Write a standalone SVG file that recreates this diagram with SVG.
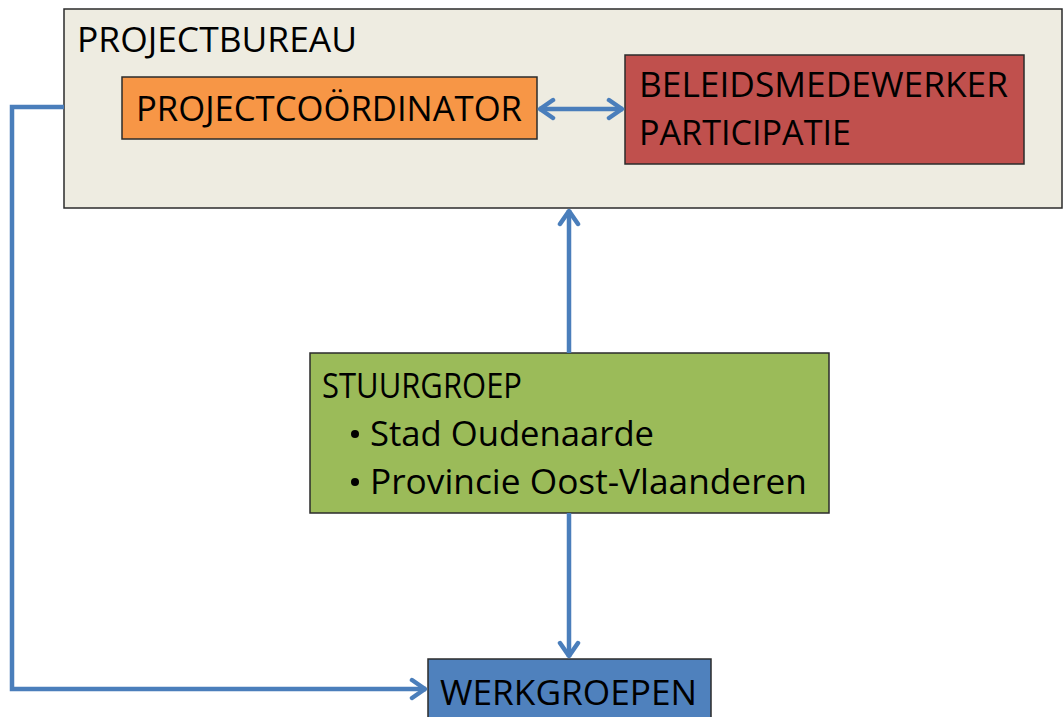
<svg xmlns="http://www.w3.org/2000/svg" width="1064" height="717" viewBox="0 0 1064 717">
<style>
.box{stroke:#2b2b2b;stroke-width:1.5}
.t{font-family:"Open Sans","Liberation Sans",Arial,sans-serif;font-size:34px;fill:#000}
.c{fill:none;stroke:#4A7EBB;stroke-width:4.5}
</style>
<defs>
<marker id="ah" markerUnits="userSpaceOnUse" viewBox="0 0 20 24" refX="18" refY="12" markerWidth="20" markerHeight="24" orient="auto-start-reverse">
<path d="M4,3 L17,12 L4,21" fill="none" stroke="#4A7EBB" stroke-width="4.5" stroke-linecap="round" stroke-linejoin="round"/>
</marker>
</defs>
<rect width="1064" height="717" fill="#fff"/>
<g id="projectbureau">
<rect class="box" x="64" y="9" width="998" height="199" fill="#EEECE1"/>
<text class="t" x="77" y="52" textLength="280" lengthAdjust="spacingAndGlyphs">PROJECTBUREAU</text>
</g>
<g id="projectcoordinator">
<rect class="box" x="122" y="77" width="415" height="62" fill="#F79646"/>
<text class="t" x="136" y="121" textLength="386" lengthAdjust="spacingAndGlyphs">PROJECTCOÖRDINATOR</text>
</g>
<g id="beleidsmedewerker">
<rect class="box" x="625" y="55" width="399" height="109" fill="#C0504D"/>
<text class="t" x="639" y="97" textLength="369" lengthAdjust="spacingAndGlyphs">BELEIDSMEDEWERKER</text>
<text class="t" x="639" y="145" textLength="212" lengthAdjust="spacingAndGlyphs">PARTICIPATIE</text>
</g>
<g id="stuurgroep">
<rect class="box" x="310" y="353" width="519" height="160" fill="#9BBB59"/>
<text class="t" x="322" y="398" textLength="200" lengthAdjust="spacingAndGlyphs">STUURGROEP</text>
<circle cx="355" cy="434" r="4" fill="#000"/>
<text class="t" x="370" y="446" textLength="284" lengthAdjust="spacingAndGlyphs">Stad Oudenaarde</text>
<circle cx="355" cy="482" r="4" fill="#000"/>
<text class="t" x="370" y="494" textLength="437" lengthAdjust="spacingAndGlyphs">Provincie Oost-Vlaanderen</text>
</g>
<g id="werkgroepen">
<rect class="box" x="428" y="659" width="283" height="70" fill="#4F81BD"/>
<text class="t" x="440" y="705" textLength="257" lengthAdjust="spacingAndGlyphs">WERKGROEPEN</text>
</g>
<g id="connectors">
<line class="c" x1="539" y1="109" x2="623" y2="109" marker-start="url(#ah)" marker-end="url(#ah)"/>
<line class="c" x1="569" y1="353" x2="569" y2="210" marker-end="url(#ah)"/>
<line class="c" x1="569" y1="513" x2="569" y2="657" marker-end="url(#ah)"/>
<polyline class="c" points="64,107 12,107 12,689 426,689" marker-end="url(#ah)"/>
</g>
</svg>
